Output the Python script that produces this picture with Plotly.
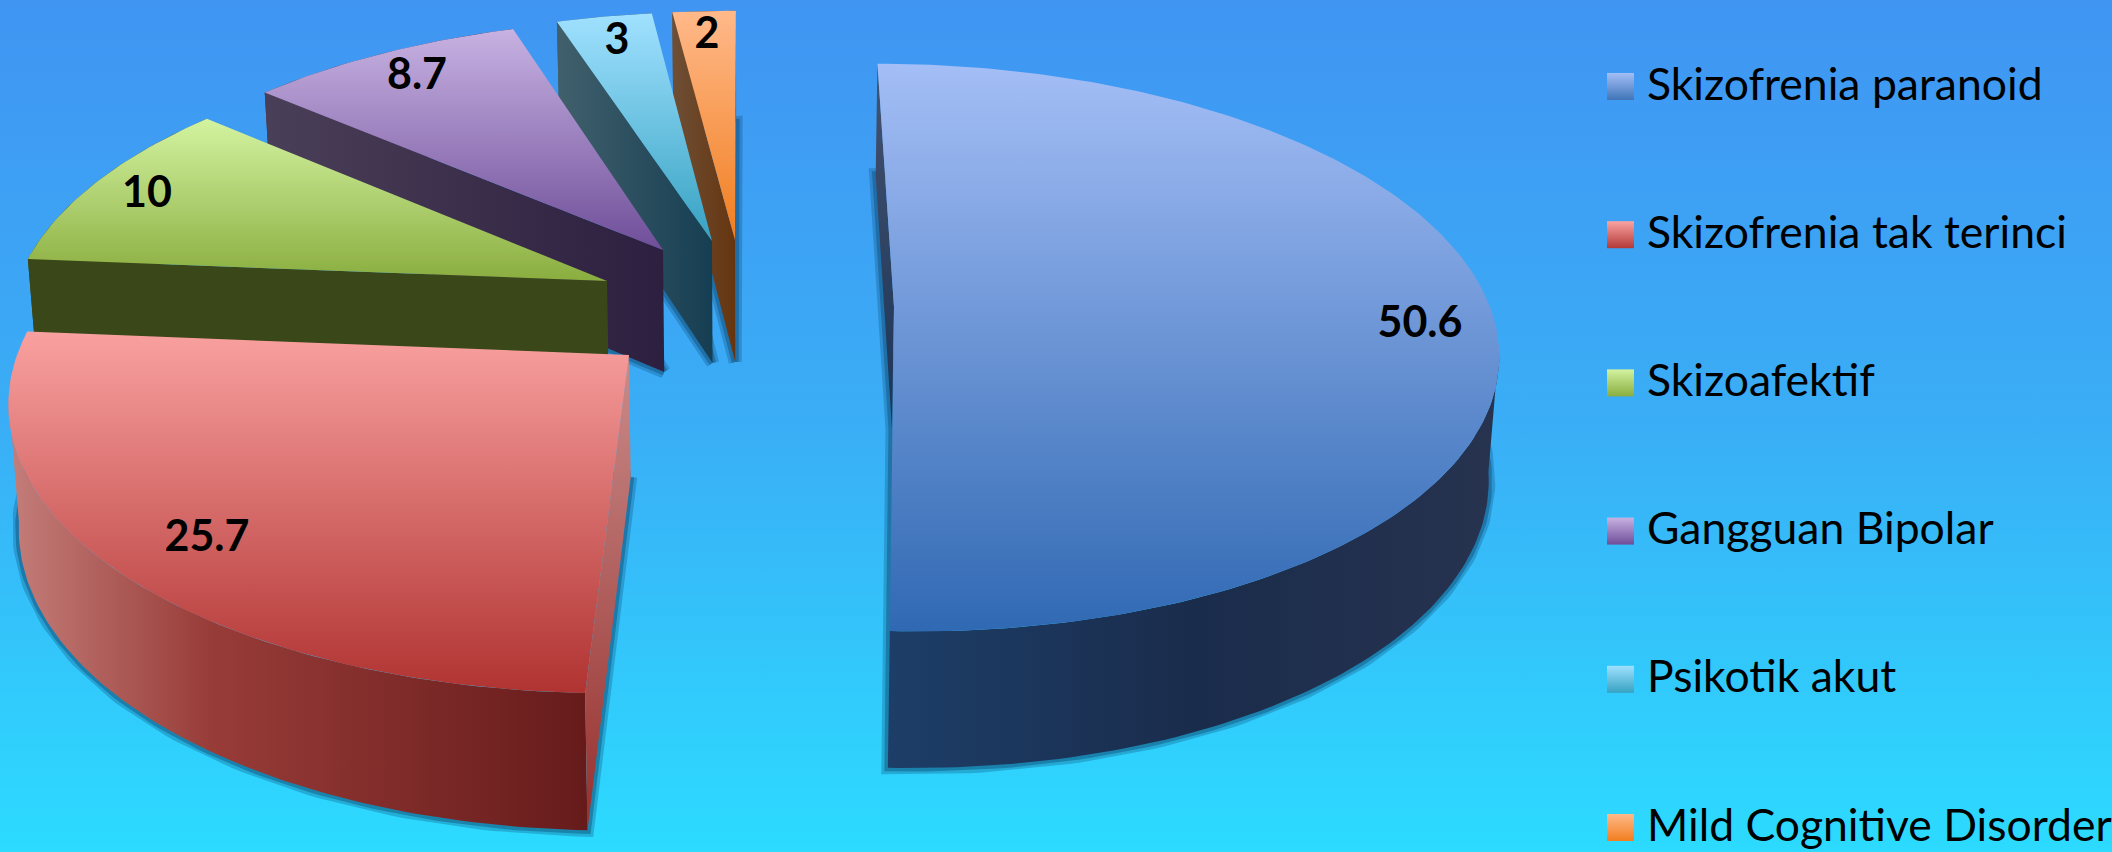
import math
import plotly.graph_objects as go

# ---- data ----
categories = ["Skizofrenia paranoid", "Skizofrenia tak terinci", "Skizoafektif",
              "Gangguan Bipolar", "Psikotik akut", "Mild Cognitive Disorder"]
values = [50.6, 25.7, 10, 8.7, 3, 2]

# ---- style: top gradient, rim gradient, cut-face gradient ----
top_colors = [("#a4bef6", "#3069b3"), ("#f9a1a0", "#b03331"), ("#d3f3a0", "#8aad3f"),
              ("#c7b2e2", "#6f4e99"), ("#a0e1ff", "#37a2c2"), ("#ffb98a", "#f17e1f")]
legend_colors = [("#a4bef6", "#3f75b8"), ("#fba3a2", "#b23a38"), ("#d3f3a0", "#8aad3f"),
                 ("#c7b2e2", "#6f4e99"), ("#a0e1ff", "#37a2c2"), ("#ffb98a", "#f17e1f")]
rim_colors = [[[0, "#1d3e68"], [0.5, "#1a2c4c"], [1, "#27334f"]],
              [[0, "#c47e7a"], [0.35, "#983c38"], [1, "#661b1b"]],
              [[0, "#3a4719"], [1, "#3a4719"]],
              [[0, "#4a3f58"], [1, "#2d1f3f"]],
              [[0, "#41606c"], [1, "#163e52"]],
              [[0, "#6e4f36"], [1, "#66350f"]]]
face_colors = [("#45536f", "#1a3458"), ("#c98c8a", "#96302e"), ("#3a4719", "#3a4719"),
               ("#4a3f58", "#2d1f3f"), ("#41606c", "#163e52"), ("#6e4f36", "#66350f")]
face_dir = ["vertical", "vertical", "horizontal", "horizontal", "horizontal", "horizontal"]

# ---- layout of the exploded 3-D pie (pixels on the hidden axes) ----
WIDTH, HEIGHT = 2112, 852
apex = [(894, 307), (629, 355), (607, 281), (663, 250), (712, 241), (735, 240)]
radius_x = [596, 612, 589, 583, 584, 580]
radius_y = [278, 290, 272, 264, 262, 262]
shear = [0.068, -0.05, -0.052, -0.039, -0.017, -0.004]
PERSP = 0.143
DEPTH0, DEPTH1 = 122, 0.045
VANISH_X, VANISH_K = 750, 0.014
label_xy = [(1420, 326), (207, 540), (147, 196), (417, 78), (617, 43), (707, 37)]
legend_x, legend_y0, legend_step = 1620.5, 86.5, 148.2
legend_text_x = 1647

# the rim is only seen between the two silhouette tangents
TANGENT_R = math.acos(-PERSP)
TANGENT_L = 2 * math.pi - TANGENT_R


def rim(i, th):
    w = 1 + PERSP * math.cos(th)
    v = -radius_y[i] * math.cos(th) / w
    u = radius_x[i] * math.sin(th) / w + shear[i] * v
    return apex[i][0] + u, apex[i][1] + v


def drop(i, x, y):
    v = y - apex[i][1]
    return x + (VANISH_X - x) * VANISH_K, y + DEPTH0 + DEPTH1 * v


def sweep(a, b):
    n = max(12, int((b - a) * 60))
    return [a + (b - a) * k / n for k in range(n + 1)]


def poly(x, y, **kw):
    return go.Scatter(x=x, y=y, fill="toself", mode="lines", line=dict(width=0),
                      hoverinfo="skip", showlegend=False, **kw)


def grad(kind, scale):
    # a vertical gradient runs from the screen bottom up on the reversed axis
    if kind == "vertical":
        scale = [[1 - s, c] for s, c in reversed(scale)]
    return dict(type=kind, colorscale=scale)


fig = go.Figure()

# background
fig.add_trace(poly([0, WIDTH, WIDTH, 0, 0], [0, 0, HEIGHT, HEIGHT, 0],
                   fillgradient=grad("vertical", [[0, "#4095f2"], [0.5, "#3aaef6"], [1, "#2cdbff"]])))

total = sum(values)
edges = [0.0]
for val in values:
    edges.append(edges[-1] + val / total * 2 * math.pi)

# back-to-front: smallest slice first, the big blue one last
for i in reversed(range(len(values))):
    a, b = edges[i], edges[i + 1]
    pts = [rim(i, t) for t in sweep(a, b)]
    low = [drop(i, *p) for p in pts]
    ax, ay = apex[i]
    abx, aby = drop(i, ax, ay)

    # soft shadow round the base
    sx = [abx] + [p[0] for p in low] + [abx]
    sy = [aby] + [p[1] for p in low] + [aby]
    fig.add_trace(go.Scatter(x=sx, y=sy, mode="lines", hoverinfo="skip", showlegend=False,
                             line=dict(color="rgba(10,70,110,0.28)", width=13)))
    fig.add_trace(go.Scatter(x=sx, y=sy, mode="lines", hoverinfo="skip", showlegend=False,
                             line=dict(color="rgba(10,70,110,0.4)", width=7)))

    # outer rim: front part only, closed along the straight silhouette edge
    ra, rb = max(a, TANGENT_R), min(b, TANGENT_L)
    if rb <= ra:
        ra, rb = a, b
    front = [rim(i, t) for t in sweep(ra, rb)]
    front_low = [drop(i, *p) for p in front]
    fig.add_trace(poly([p[0] for p in front] + [p[0] for p in reversed(front_low)] + [front[0][0]],
                       [p[1] for p in front] + [p[1] for p in reversed(front_low)] + [front[0][1]],
                       fillgradient=grad("horizontal", rim_colors[i])))
    # visible cut face
    c1, c2 = face_colors[i]
    fig.add_trace(poly([ax, pts[0][0], low[0][0], abx, ax],
                       [ay, pts[0][1], low[0][1], aby, ay],
                       fillgradient=grad(face_dir[i], [[0, c1], [1, c2]])))
    # top surface
    t1, t2 = top_colors[i]
    fig.add_trace(poly([ax] + [p[0] for p in pts] + [ax],
                       [ay] + [p[1] for p in pts] + [ay],
                       fillgradient=grad("vertical", [[0, t1], [1, t2]])))

# value labels
fig.add_trace(go.Scatter(x=[p[0] for p in label_xy], y=[p[1] for p in label_xy],
                         text=[str(v) for v in values], mode="text", hoverinfo="skip", showlegend=False,
                         textposition="middle center",
                         textfont=dict(family="Lato", size=43, color="black", weight="bold")))

# legend
for i, name in enumerate(categories):
    y = legend_y0 + i * legend_step
    fig.add_trace(go.Scatter(x=[legend_x], y=[y], mode="markers", hoverinfo="skip", showlegend=False,
                             marker=dict(symbol="square", size=27, color=legend_colors[i][0], line=dict(width=0),
                                         gradient=dict(type="vertical", color=legend_colors[i][1]))))
    fig.add_trace(go.Scatter(x=[legend_text_x], y=[y + 2], mode="text", text=[name], hoverinfo="skip",
                             showlegend=False, textposition="middle right",
                             textfont=dict(family="Lato", size=44.5, color="black")))

fig.update_layout(width=WIDTH, height=HEIGHT, margin=dict(l=0, r=0, t=0, b=0), showlegend=False,
                  paper_bgcolor="#3aaef6", plot_bgcolor="rgba(0,0,0,0)",
                  xaxis=dict(range=[0, WIDTH], visible=False, fixedrange=True),
                  yaxis=dict(range=[HEIGHT, 0], visible=False, fixedrange=True))

fig.write_html("out.html", config={"displayModeBar": False},
               post_script="document.body.style.margin='0';document.documentElement.style.overflow='hidden';")
